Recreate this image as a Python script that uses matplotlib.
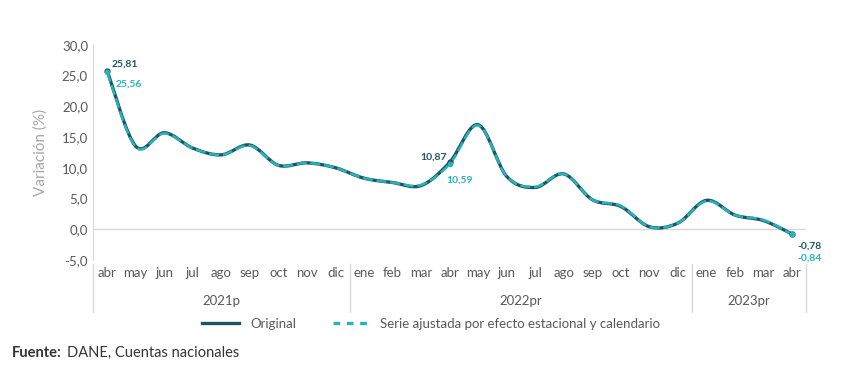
import numpy as np
import matplotlib.pyplot as plt
from matplotlib.path import Path
from matplotlib.patches import PathPatch
import matplotlib.transforms as mtransforms

# Data
months = ['abr', 'may', 'jun', 'jul', 'ago', 'sep', 'oct', 'nov', 'dic',
          'ene', 'feb', 'mar', 'abr', 'may', 'jun', 'jul', 'ago', 'sep', 'oct', 'nov', 'dic',
          'ene', 'feb', 'mar', 'abr']
years = ['2021p', '2022pr', '2023pr']
year_sizes = [9, 12, 4]
original = [25.81, 13.5, 15.7, 13.2, 12.1, 13.7, 10.4, 10.8, 10.0,
            8.3, 7.6, 7.1, 10.87, 17.0, 8.6, 6.8, 9.0, 4.8, 3.7, 0.4, 1.0,
            4.7, 2.3, 1.4, -0.78]
ajustada = [25.56, 13.4, 15.6, 13.2, 12.1, 13.6, 10.4, 10.8, 10.0,
            8.3, 7.6, 7.2, 10.59, 16.9, 8.6, 6.9, 9.0, 4.8, 3.8, 0.4, 1.0,
            4.6, 2.3, 1.5, -0.84]

dark = '#1f5560'
cyan = '#27b3bc'
gray = '#595959'

plt.rcParams['font.family'] = ['Lato', 'DejaVu Sans']

fig = plt.figure(figsize=(8.68, 3.74), dpi=100)
ax = fig.add_axes([0.107, 0.305, 0.822, 0.575])


def smooth_path(xs, ys):
    # Catmull-Rom style bezier, like Excel's smoothed line
    verts = [(xs[0], ys[0])]
    codes = [Path.MOVETO]
    n = len(xs)
    for i in range(n - 1):
        p0 = (xs[max(i - 1, 0)], ys[max(i - 1, 0)])
        p1 = (xs[i], ys[i])
        p2 = (xs[i + 1], ys[i + 1])
        p3 = (xs[min(i + 2, n - 1)], ys[min(i + 2, n - 1)])
        c1 = (p1[0] + (p2[0] - p0[0]) / 6, p1[1] + (p2[1] - p0[1]) / 6)
        c2 = (p2[0] - (p3[0] - p1[0]) / 6, p2[1] - (p3[1] - p1[1]) / 6)
        verts += [c1, c2, p2]
        codes += [Path.CURVE4] * 3
    return Path(verts, codes)


x = np.arange(len(months))
ax.add_patch(PathPatch(smooth_path(x, original), fill=False, edgecolor=dark, lw=2.4))
ax.add_patch(PathPatch(smooth_path(x, ajustada), fill=False, edgecolor=cyan, lw=1.8,
                       linestyle=(0, (4, 1.5))))

# end point markers
for i in [0, 12, 24]:
    ax.plot(x[i], original[i], 'o', color=dark, ms=3.5)
    ax.plot(x[i], ajustada[i], 'o', color=cyan, ms=3)

fmt = lambda v: f'{v:.2f}'.replace('.', ',')
lab = dict(fontsize=7.5, fontweight='bold')
ax.text(x[0] + 0.15, original[0] + 0.6, fmt(original[0]), color=dark, **lab)
ax.text(x[0] + 0.3, ajustada[0] - 2.4, fmt(ajustada[0]), color=cyan, **lab)
ax.text(x[12] - 0.1, original[12] + 0.4, fmt(original[12]), color=dark, ha='right', **lab)
ax.text(x[12] - 0.1, ajustada[12] - 3.0, fmt(ajustada[12]), color=cyan, **lab)
ax.text(x[24] + 0.6, original[24] - 2.4, fmt(original[24]), color=dark, ha='center', **lab)
ax.text(x[24] + 0.6, ajustada[24] - 4.2, fmt(ajustada[24]), color=cyan, ha='center', **lab)

ax.set_xlim(-0.5, len(months) - 0.5)
ax.set_ylim(-5, 30)
ax.set_yticks(np.arange(-5, 31, 5))
ax.set_yticklabels([f'{v:.1f}'.replace('.', ',') for v in np.arange(-5, 31, 5)])
ax.set_xticks(x)
ax.set_xticklabels(months)
ax.tick_params(axis='both', length=0, labelsize=9.5, colors=gray)
ax.tick_params(axis='x', pad=5)
ax.set_ylabel('Variación (%)', color='#a6a6a6', fontsize=11, labelpad=10)

for s in ['top', 'right', 'bottom']:
    ax.spines[s].set_visible(False)
ax.spines['left'].set_color('#d9d9d9')
ax.axhline(0, color='#d9d9d9', lw=1, zorder=0)

# year groups and separators
trans = mtransforms.blended_transform_factory(ax.transData, ax.transAxes)
start = -0.5
bounds = [start]
for name, size in zip(years, year_sizes):
    mid = start + size / 2
    ax.text(mid, -0.19, name, transform=trans, ha='center', va='center', fontsize=9.5, color=gray)
    start += size
    bounds.append(start)
for b in bounds:
    ax.plot([b, b], [-0.02, -0.24], transform=trans, color='#d9d9d9', lw=1, clip_on=False)

# legend
leg_handles = [plt.Line2D([], [], color=dark, lw=2.4),
               plt.Line2D([], [], color=cyan, lw=2.4, linestyle=(0, (2, 2)))]
fig.legend(leg_handles, ['Original', 'Serie ajustada por efecto estacional y calendario'],
           loc='center', bbox_to_anchor=(0.497, 0.135), ncol=2, frameon=False,
           fontsize=9.5, labelcolor=gray, handlelength=2.8, columnspacing=2.8)

fig.text(0.014, 0.045, 'Fuente:', fontsize=10.5, fontweight='bold', color='#333333')
fig.text(0.077, 0.045, 'DANE, Cuentas nacionales', fontsize=10.5, color='#333333')

fig.savefig('out.png', dpi=100)
